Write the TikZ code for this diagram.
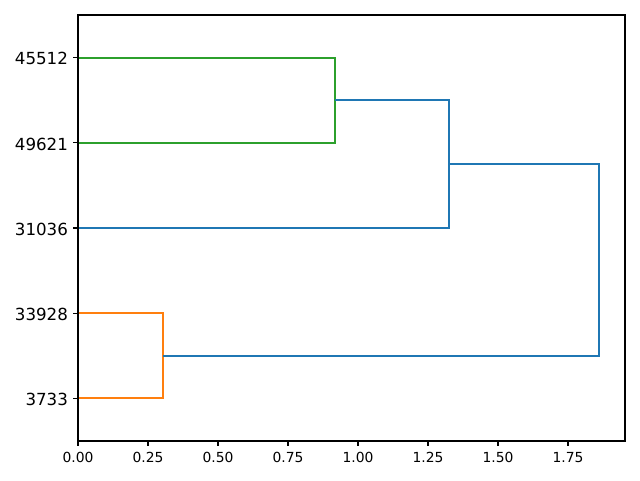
\documentclass[tikz,border=0pt]{standalone}
\usepackage{fontspec}
\setmainfont{DejaVu Sans}
\definecolor{cblue}{HTML}{1F77B4}
\definecolor{corange}{HTML}{FF7F0E}
\definecolor{cgreen}{HTML}{2CA02C}
\tikzset{
  link/.style={line width=1.56pt, line cap=butt, line join=miter},
  spine/.style={line width=0.83pt, black, line join=miter},
  tickmark/.style={line width=0.83pt, black},
  ylab/.style={anchor=east, inner sep=0pt, font=\fontsize{12.5}{15}\selectfont},
  xlab/.style={anchor=north, inner sep=0pt, font=\fontsize{10.4}{12.5}\selectfont}
}
\begin{document}
\begin{tikzpicture}[x=0.75pt,y=-0.75pt]
\useasboundingbox (0,0) rectangle (640,480);
\fill[white] (0,0) rectangle (640,480);
% leaves (left ends)
\coordinate (a) at (78,57.6);
\coordinate (b) at (78,142.8);
\coordinate (c) at (78,228.0);
\coordinate (d) at (78,313.2);
\coordinate (e) at (78,398.4);
% merge corners
\coordinate (g1) at (335,57.6);
\coordinate (g2) at (335,142.8);
\coordinate (o1) at (163,313.2);
\coordinate (o2) at (163,398.4);
\coordinate (b1t) at (449,100.2);
\coordinate (b1m) at (335,100.2);
\coordinate (b1b) at (449,228.0);
\coordinate (b2t) at (599,164.1);
\coordinate (b2l) at (449,164.1);
\coordinate (b2b) at (599,355.8);
\coordinate (b2o) at (163,355.8);
% links
\draw[link, cgreen] (a) -- (g1) -- (g2) -- (b);
\draw[link, corange] (d) -- (o1) -- (o2) -- (e);
\draw[link, cblue] (b1m) -- (b1t) -- (b1b) -- (c);
\draw[link, cblue] (b2l) -- (b2t) -- (b2b) -- (b2o);
% axes frame
\draw[spine] (78,15) rectangle (625,441);
% y ticks and labels
\foreach \yy/\t/\n in {57.6/45512/ya, 142.8/49621/yb, 228.0/31036/yc, 313.2/33928/yd, 398.4/3733/ye}{
  \draw[tickmark] (78,\yy) -- (73.1,\yy);
  \node[ylab] (\n) at (68.2,\yy+1.3) {\t};
}
% x ticks and labels
\foreach \v/\t [count=\i] in {0/0.00, 0.25/0.25, 0.5/0.50, 0.75/0.75, 1.0/1.00, 1.25/1.25, 1.5/1.50, 1.75/1.75}{
  \draw[tickmark] (78+280*\v,441) -- (78+280*\v,445.9);
  \node[xlab] (x\i) at (78+280*\v,451.8) {\t};
}
\end{tikzpicture}
\end{document}
